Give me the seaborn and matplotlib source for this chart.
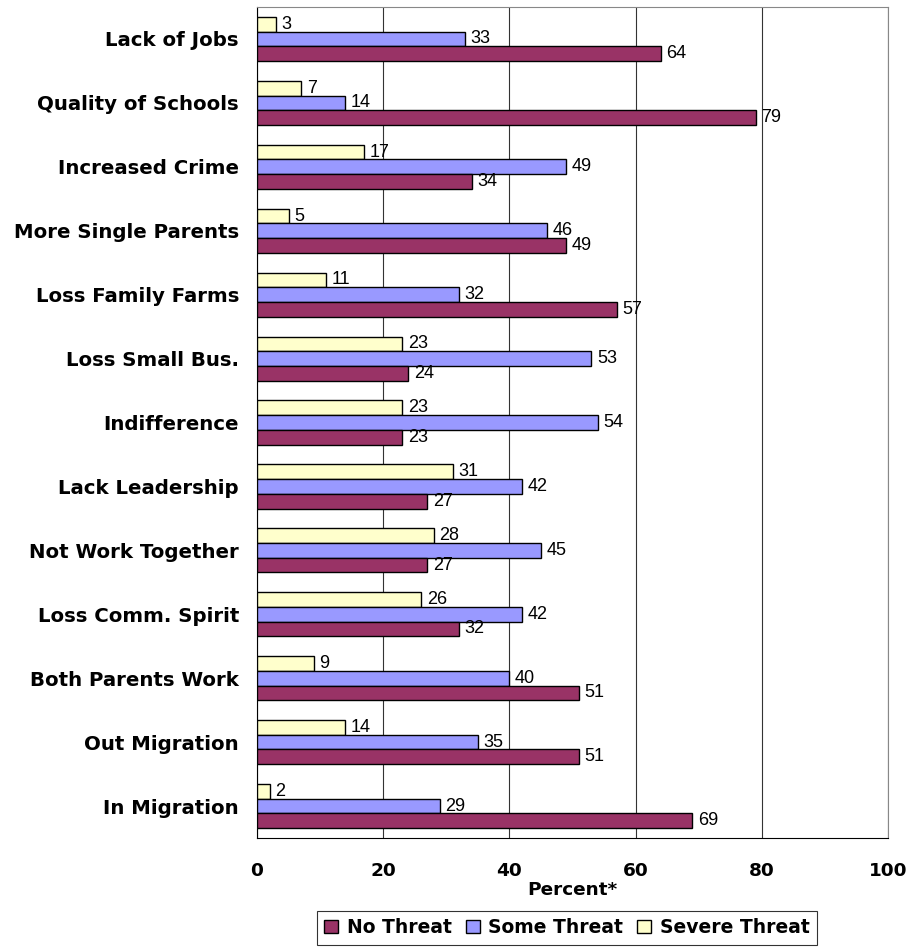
import matplotlib
matplotlib.use("Agg")
import matplotlib.pyplot as plt
import seaborn as sns
import pandas as pd
from matplotlib.patches import Patch

categories = ["Lack of Jobs", "Quality of Schools", "Increased Crime", "More Single Parents",
              "Loss Family Farms", "Loss Small Bus.", "Indifference", "Lack Leadership",
              "Not Work Together", "Loss Comm. Spirit", "Both Parents Work", "Out Migration",
              "In Migration"]
no_threat = [64, 79, 34, 49, 57, 24, 23, 27, 27, 32, 51, 51, 69]
some_threat = [33, 14, 49, 46, 32, 53, 54, 42, 45, 42, 40, 35, 29]
severe_threat = [3, 7, 17, 5, 11, 23, 23, 31, 28, 26, 9, 14, 2]
series = ["No Threat", "Some Threat", "Severe Threat"]
colors = {"No Threat": "#993366", "Some Threat": "#9999FF", "Severe Threat": "#FFFFCC"}

rows = []
for s, vals in zip(series, [no_threat, some_threat, severe_threat]):
    for c, v in zip(categories, vals):
        rows.append({"Category": c, "Series": s, "Value": v})
df = pd.DataFrame(rows)

sns.set_style("white")
plt.rcParams["font.family"] = ["Liberation Sans", "DejaVu Sans"]
plt.rcParams["text.color"] = "black"
plt.rcParams["xtick.color"] = "black"
plt.rcParams["ytick.color"] = "black"
plt.rcParams["axes.labelcolor"] = "black"

bold = {"family": "DejaVu Sans", "weight": "bold", "size": 13.3}
catfont = {"family": "DejaVu Sans", "weight": "bold", "size": 14.2}

fig = plt.figure(figsize=(9.17, 9.48), dpi=100)
ax = fig.add_axes([0.2803, 0.1160, 0.6881, 0.8766])

hue_order = ["Severe Threat", "Some Threat", "No Threat"]
sns.barplot(data=df, y="Category", x="Value", hue="Series", order=categories,
            hue_order=hue_order, palette=colors, orient="h", width=0.69,
            edgecolor="black", linewidth=1.0, saturation=1, ax=ax, legend=False,
            errorbar=None, zorder=3)

for cont in ax.containers:
    ax.bar_label(cont, labels=[f"{int(v)}" for v in cont.datavalues], padding=4,
                 fontsize=13, color="black")

ax.set_xlim(0, 100)
ax.set_ylim(len(categories) - 0.5, -0.5)
ax.set_xticks([0, 20, 40, 60, 80, 100])
ax.set_xticklabels(["0", "20", "40", "60", "80", "100"], fontdict=bold)
ax.xaxis.grid(True, color="#333333", linewidth=0.8, zorder=0)
ax.set_axisbelow(True)
ax.set_yticks(range(len(categories)))
ax.set_yticklabels(categories, fontdict=catfont)
ax.tick_params(axis="y", length=0, pad=13)
ax.set_yticks([i - 0.5 for i in range(len(categories) + 1)], minor=True)
ax.tick_params(axis="y", which="minor", length=6, direction="out", width=0.8)
ax.tick_params(axis="x", length=8, direction="inout", width=0.8, pad=13)
ax.set_ylabel("")
ax.set_xlabel("Percent*", fontdict=bold, labelpad=1)
for sp in ax.spines.values():
    sp.set_visible(True)
    sp.set_color("black")
    sp.set_linewidth(0.8)
ax.spines["top"].set_color("#888888")
ax.spines["right"].set_color("#888888")

handles = [Patch(facecolor=colors[s], edgecolor="black", label=s) for s in series]
leg = fig.legend(handles=handles, loc="center", bbox_to_anchor=(0.618, 0.0216), ncol=3,
                 frameon=True, fancybox=False, edgecolor="black",
                 prop={"family": "DejaVu Sans", "weight": "bold", "size": 13.5},
                 handlelength=0.75, handleheight=0.75,
                 handletextpad=0.45, columnspacing=0.75, borderpad=0.4, borderaxespad=0)
leg.get_frame().set_linewidth(0.8)

fig.savefig("out.png", dpi=100)
